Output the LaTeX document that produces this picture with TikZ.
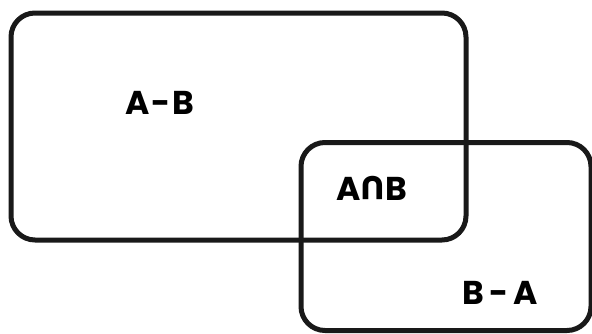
\documentclass[tikz,border=0pt]{standalone}
\usepackage{fontspec}
\usepackage{graphicx}
\setmainfont{Poppins}
\tikzset{
  setbox/.style={draw=black!90, line width=5pt, rounded corners=24pt, inner sep=0pt, outer sep=0pt},
  lbl/.style={font=\fontsize{33}{36}\selectfont\bfseries, inner sep=0pt}
}
\newcommand{\invU}{\raisebox{0.72em}{\rotatebox{180}{U}}}
\begin{document}
\begin{tikzpicture}[x=1pt,y=-1pt]
\useasboundingbox (0,0) rectangle (592,333);
\clip (0,0) rectangle (592,333);
\node[setbox, minimum width=455pt, minimum height=227pt] (A) at (238.5,126.5) {};
\node[setbox, minimum width=290pt, minimum height=188pt] (B) at (446,236.5) {};
\node[lbl] (amb) at (160,103) {A\kern2pt-\kern2ptB};
\node[lbl] (anb) at (372,188) {A\kern1pt\invU\kern1ptB};
\node[lbl] (bma) at (500,293) {B\kern5pt-\kern5ptA};
\end{tikzpicture}
\end{document}
